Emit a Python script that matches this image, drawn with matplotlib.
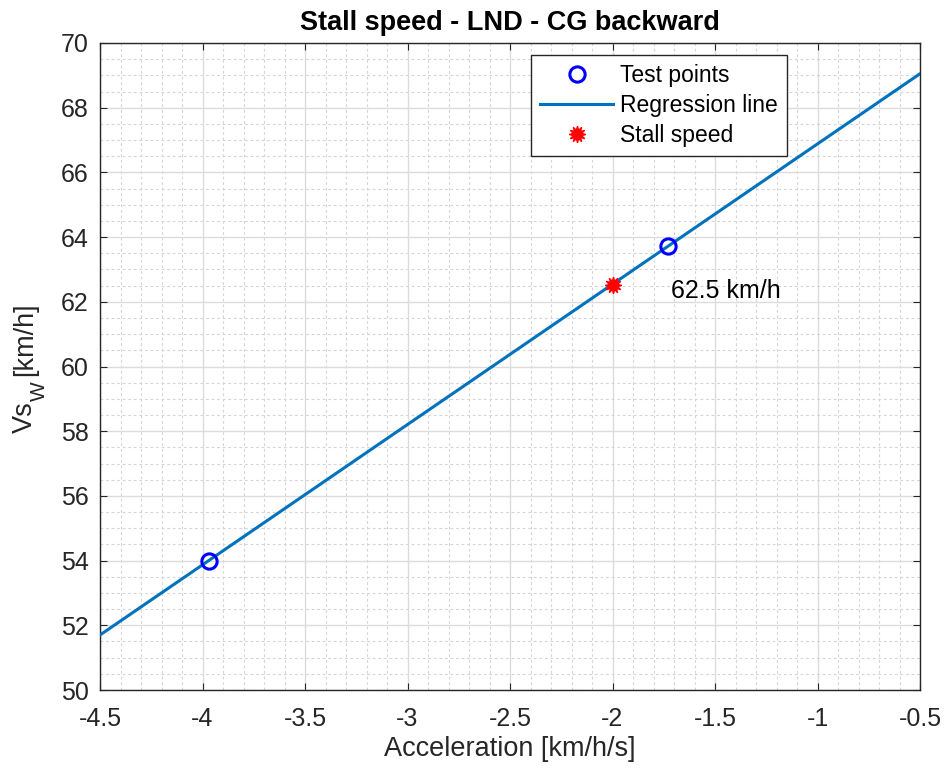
import matplotlib
matplotlib.use("Agg")
import matplotlib.pyplot as plt
from matplotlib.ticker import MultipleLocator
import numpy as np

plt.rcParams['font.family'] = ['Liberation Sans', 'DejaVu Sans']

# Data
test_x = [-3.97, -1.73]
test_y = [54.0, 63.72]
reg_x = [-4.5, -0.5]
reg_y = [51.7, 69.05]
stall_x = [-2.0]
stall_y = [62.53]
stall_label = "62.5 km/h"
xticks = [-4.5, -4, -3.5, -3, -2.5, -2, -1.5, -1, -0.5]
xticklabels = ["-4.5", "-4", "-3.5", "-3", "-2.5", "-2", "-1.5", "-1", "-0.5"]
yticks = list(range(50, 71, 2))

W, H = 948, 774
fig = plt.figure(figsize=(W/100, H/100), dpi=100)
ax = fig.add_axes([100/W, 1-690/H, 820/W, 647/H])

axcol = '#262626'
ax.plot(test_x, test_y, 'o', markerfacecolor='none', markeredgecolor='#0000ff',
        markeredgewidth=2.2, markersize=11, label='Test points', zorder=4)
ax.plot(reg_x, reg_y, '-', color='#0072bd', linewidth=2.2, label='Regression line', zorder=3)
ax.plot(stall_x, stall_y, linestyle='none', marker=(12, 1, 0), color='#ff0000',
        markersize=12, markeredgewidth=1.0, label='Stall speed', zorder=5)
ax.text(-1.715, 62.33, stall_label, fontsize=18, color='black', va='center', ha='left')

ax.set_xlim(-4.5, -0.5)
ax.set_ylim(50, 70)
ax.set_xticks(xticks)
ax.set_xticklabels(xticklabels)
ax.set_yticks(yticks)
ax.xaxis.set_minor_locator(MultipleLocator(0.1))
ax.yaxis.set_minor_locator(MultipleLocator(0.5))

ax.grid(which='major', color='#dcdcdc', linestyle='-', linewidth=1.0)
ax.grid(which='minor', color='#d5d5d5', linestyle=(0, (2.5, 2.5)), linewidth=0.8)
ax.set_axisbelow(True)

ax.tick_params(which='both', direction='in', top=True, right=True, colors=axcol,
               labelsize=18)
ax.tick_params(which='major', length=5)
ax.tick_params(which='minor', length=0)
ax.tick_params(axis='x', pad=12)
ax.tick_params(axis='y', pad=8)
for s in ax.spines.values():
    s.set_color(axcol)
    s.set_linewidth(1.0)

ax.set_title('Stall speed - LND - CG backward', fontsize=19.5, fontweight='bold', pad=9)
ax.set_xlabel('Acceleration [km/h/s]', fontsize=19.5, color=axcol, labelpad=4)

# y label built from pieces so the subscript keeps MATLAB-like size
r = fig.canvas.get_renderer()
base_x = 32 / W
y0 = 433
t1 = fig.text(base_x, y0 / H * 0 + (H - y0) / H, 'Vs', rotation=90, rotation_mode='anchor',
              ha='left', va='baseline', fontsize=19.5, color=axcol)
bb1 = t1.get_window_extent(r)
t2 = fig.text(45 / W, bb1.y1 / H, 'W', rotation=90, rotation_mode='anchor',
              ha='left', va='baseline', fontsize=15, color=axcol)
bb2 = t2.get_window_extent(r)
t3 = fig.text(base_x, (bb2.y1 + 5) / H, '[km/h]', rotation=90, rotation_mode='anchor',
              ha='left', va='baseline', fontsize=19.5, color=axcol)

leg = ax.legend(loc='upper right', bbox_to_anchor=(0.8378, 0.9814), fontsize=16.5,
                fancybox=False, edgecolor=axcol, framealpha=1, borderpad=0.4,
                labelspacing=0.3, handlelength=3.2, handletextpad=0.3, borderaxespad=0)
leg.get_frame().set_linewidth(1.0)

fig.savefig('out.png', dpi=100)
